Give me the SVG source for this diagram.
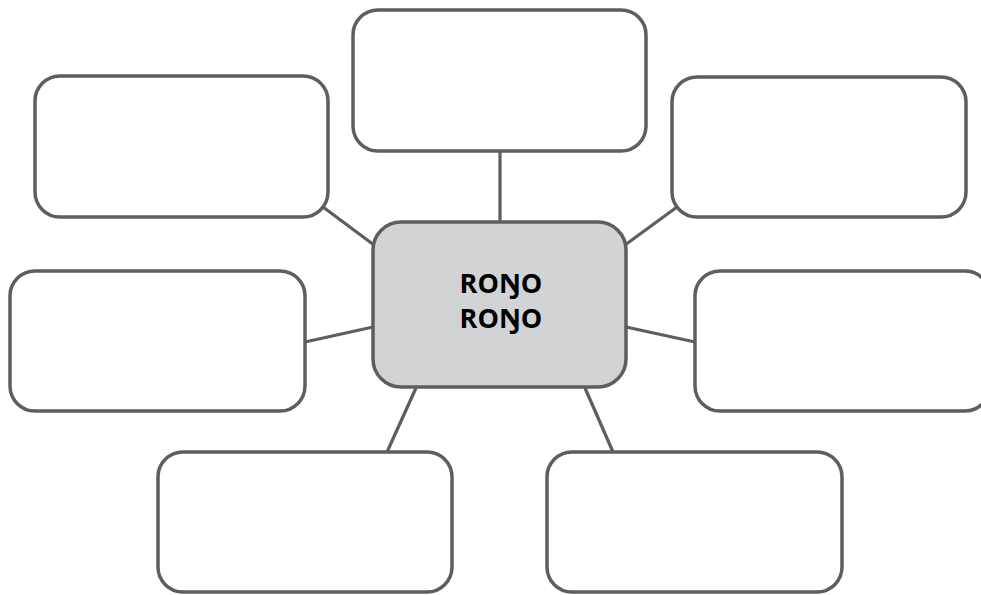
<svg xmlns="http://www.w3.org/2000/svg" width="981" height="595" viewBox="0 0 981 595">
  <style>
    .box { fill: #ffffff; stroke: #5e5e5e; stroke-width: 3.5; }
    .hub { fill: #d1d3d4; stroke: #5e5e5e; stroke-width: 3.5; }
    .conn line { stroke: #5e5e5e; stroke-width: 3.2; stroke-linecap: butt; }
    .lbl { font-family: "Open Sans", "Liberation Sans", sans-serif; font-weight: 700; font-size: 27px; fill: #000000; text-anchor: middle; }
  </style>
  <rect width="981" height="595" fill="#ffffff"/>
  <g id="connectors" class="conn">
    <line x1="500" y1="151" x2="500" y2="222"/>
    <line x1="323" y1="207" x2="374" y2="245"/>
    <line x1="677" y1="207" x2="625" y2="245"/>
    <line x1="305" y1="342" x2="373" y2="327"/>
    <line x1="695" y1="342" x2="626" y2="327"/>
    <line x1="387" y1="452" x2="416" y2="388"/>
    <line x1="613" y1="452" x2="585" y2="388"/>
  </g>
  <g id="node-top"><rect class="box" x="353" y="10" width="293" height="141" rx="25"/></g>
  <g id="node-top-left"><rect class="box" x="35" y="76" width="293" height="141" rx="25"/></g>
  <g id="node-top-right"><rect class="box" x="672" y="77" width="294" height="140" rx="25"/></g>
  <g id="node-mid-left"><rect class="box" x="10" y="271" width="295" height="140" rx="25"/></g>
  <g id="node-mid-right"><rect class="box" x="695" y="271" width="295" height="140" rx="25"/></g>
  <g id="node-bottom-left"><rect class="box" x="158" y="452" width="294" height="140" rx="25"/></g>
  <g id="node-bottom-right"><rect class="box" x="547" y="452" width="295" height="140" rx="25"/></g>
  <g id="node-center">
    <rect class="hub" x="373" y="222" width="253" height="165" rx="28"/>
    <text class="lbl" x="501" y="293">ROŊO</text>
    <text class="lbl" x="501" y="328">ROŊO</text>
  </g>
</svg>
